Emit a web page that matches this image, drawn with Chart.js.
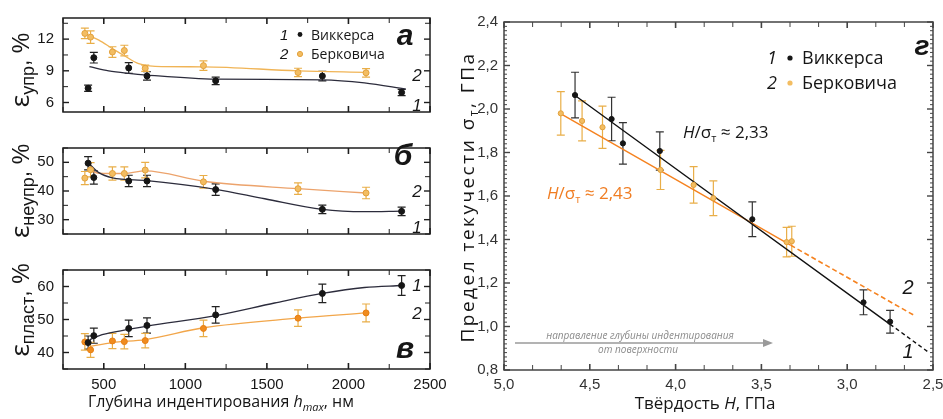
<!DOCTYPE html>
<html>
<head>
<meta charset="utf-8">
<script src="https://cdn.jsdelivr.net/npm/chart.js@4.4.1/dist/chart.umd.min.js"></script>
<style>
  body { margin: 0; background: #fff; }
  #wrap { position: relative; width: 943px; height: 419px; overflow: hidden; background: #fff; }
  canvas { position: absolute; }
</style>
</head>
<body>
<div id="wrap">
  <canvas id="chartA" width="460" height="130" style="left:0;top:0"></canvas>
  <canvas id="chartB" width="460" height="122" style="left:0;top:130px"></canvas>
  <canvas id="chartC" width="460" height="167" style="left:0;top:252px"></canvas>
  <canvas id="chartD" width="503" height="419" style="left:440px;top:0"></canvas>
</div>
<script>
// глубина индентирования, нм
var depthVickers = [404, 439, 653, 765, 1186, 1840, 2326];
var depthBerkovich = [384, 419, 553, 626, 754, 1111, 1691, 2108];
var depthTicks = [500, 1000, 1500, 2000, 2500];

// а — упругая деформация
var elasticVickers = [7.35, 10.24, 9.27, 8.51, 8.05, 8.5, 6.95];
var elasticVickersErr = [0.3, 0.5, 0.5, 0.4, 0.35, 0.45, 0.3];
var elasticBerkovich = [12.54, 12.19, 10.78, 10.92, 9.24, 9.49, 8.84, 8.81];
var elasticBerkovichErr = [0.5, 0.6, 0.5, 0.5, 0.3, 0.45, 0.4, 0.4];
var elasticFitVX = [412, 530, 653, 765, 1186, 1840, 2098, 2352];
var elasticFitVY = [9.4, 9.0, 8.76, 8.6, 8.21, 8.15, 7.86, 7.27];
var elasticFitBX = [384, 470, 553, 626, 714, 815, 1111, 1691, 2108];
var elasticFitBY = [12.5, 11.9, 11.1, 10.43, 9.68, 9.42, 9.38, 9.0, 8.86];
var elasticTicks = [6, 9, 12];

// б — неупругая деформация
var inelasticVickers = [49.7, 44.7, 43.5, 43.5, 40.5, 33.6, 32.9];
var inelasticVickersErr = [2.3, 2.3, 2, 2, 2, 1.5, 1.5];
var inelasticBerkovich = [44.5, 47.4, 46.1, 46.1, 47.3, 43.2, 40.8, 39.3];
var inelasticBerkovichErr = [2.3, 2.5, 2.3, 2.3, 2.7, 2.2, 2, 2];
var inelasticFitVX = [404, 470, 553, 765, 1186, 1487, 1840, 2098, 2326];
var inelasticFitVY = [49.9, 46.4, 44.6, 43.6, 40.6, 37.3, 33.6, 32.8, 33.0];
var inelasticFitBX = [398, 470, 626, 754, 1111, 1691, 2108];
var inelasticFitBY = [47.7, 46.2, 46.1, 47.0, 43.4, 40.8, 39.3];
var inelasticTicks = [30, 40, 50];

// в — пластическая деформация
var plasticVickers = [43.0, 45.1, 47.3, 48.2, 51.4, 57.9, 60.3];
var plasticVickersErr = [2, 2.3, 2.5, 2.3, 2.5, 2.8, 3];
var plasticBerkovich = [43.2, 40.8, 43.5, 43.3, 43.6, 47.3, 50.4, 52.0];
var plasticBerkovichErr = [2.5, 2.3, 2.3, 2.2, 2.2, 2.5, 2.5, 2.7];
var plasticFitVX = [415, 490, 653, 765, 1186, 1547, 1840, 2098, 2326];
var plasticFitVY = [43.9, 45.4, 47.0, 48.0, 51.2, 55.0, 57.9, 59.7, 60.3];
var plasticFitBX = [414, 551, 754, 1111, 1691, 2108];
var plasticFitBY = [41.8, 43.0, 43.9, 47.5, 50.4, 52.0];
var plasticTicks = [40, 50, 60];

// г — предел текучести от твёрдости
var hardVickers = [4.586, 4.373, 4.307, 4.092, 3.553, 2.905, 2.75];
var yieldVickers = [2.064, 1.954, 1.842, 1.807, 1.493, 1.111, 1.022];
var yieldVickersErr = [0.105, 0.1, 0.095, 0.088, 0.08, 0.057, 0.052];
var hardBerkovich = [4.669, 4.545, 4.426, 4.088, 3.895, 3.78, 3.353, 3.323];
var yieldBerkovich = [1.98, 1.945, 1.916, 1.72, 1.651, 1.59, 1.388, 1.392];
var yieldBerkovichErr = [0.1, 0.092, 0.097, 0.09, 0.084, 0.08, 0.068, 0.069];
var lineVickersX = [4.6, 2.75], lineVickersY = [2.07, 1.01];
var lineVickersDashX = [2.75, 2.53], lineVickersDashY = [1.01, 0.884];
var lineBerkovichX = [4.673, 3.33], lineBerkovichY = [1.98, 1.374];
var lineBerkovichDashX = [3.33, 2.614], lineBerkovichDashY = [1.374, 1.053];
var hardTicks = [2.5, 3.0, 3.5, 4.0, 4.5, 5.0];
var yieldTicks = [0.8, 1.0, 1.2, 1.4, 1.6, 1.8, 2.0, 2.2, 2.4];

var INK = '#161616';
var TICKFONT = 'Liberation Sans';
var TEXTFONT = 'Open Sans';

function pts(xs, ys) {
    return xs.map(function(x, i) { return {x: x, y: ys[i]}; });
}

function pointSet(xs, ys, err, fill, edge, barColor, r) {
    return {
        type: 'scatter', data: pts(xs, ys), err: err, errColor: barColor,
        backgroundColor: fill, borderColor: edge, borderWidth: 1,
        pointRadius: r || 3, pointHoverRadius: r || 3, order: 1
    };
}

function fitSet(xs, ys, color, dash, width) {
    return {
        type: 'line', data: pts(xs, ys), borderColor: color, borderWidth: width || 1.3,
        pointRadius: 0, cubicInterpolationMode: 'monotone', borderDash: dash || [],
        fill: false, order: 2
    };
}

// error bars through the chart's own y scale
var errorBars = {
    id: 'errorBars',
    beforeDatasetsDraw: function(chart) {
        var ctx = chart.ctx;
        chart.data.datasets.forEach(function(ds, i) {
            if (!ds.err) return;
            var meta = chart.getDatasetMeta(i);
            var sy = chart.scales.y;
            ctx.save();
            ctx.strokeStyle = ds.errColor;
            ctx.lineWidth = 1.2;
            meta.data.forEach(function(pt, j) {
                var v = ds.data[j].y, e = ds.err[j];
                var t = sy.getPixelForValue(v + e), b = sy.getPixelForValue(v - e);
                ctx.beginPath();
                ctx.moveTo(pt.x, t); ctx.lineTo(pt.x, b);
                ctx.moveTo(pt.x - 4, t); ctx.lineTo(pt.x + 4, t);
                ctx.moveTo(pt.x - 4, b); ctx.lineTo(pt.x + 4, b);
                ctx.stroke();
            });
            ctx.restore();
        });
    }
};

function line(ctx, x1, y1, x2, y2) {
    ctx.beginPath(); ctx.moveTo(x1, y1); ctx.lineTo(x2, y2); ctx.stroke();
}

// frame + inward ticks on all four sides
function frameTicks(chart, xStep, xMajor, yStep, yMajor, color, minorLen) {
    var ctx = chart.ctx, a = chart.chartArea, sx = chart.scales.x, sy = chart.scales.y;
    ctx.save();
    ctx.strokeStyle = color;
    var i, v, p, major;
    for (i = Math.ceil(sx.min / xStep - 1e-6); i <= Math.floor(sx.max / xStep + 1e-6); i++) {
        v = i * xStep; p = sx.getPixelForValue(v);
        major = Math.abs(v / xMajor - Math.round(v / xMajor)) < 1e-6;
        ctx.lineWidth = major ? 1.6 : 1;
        var l = major ? 6 : 5;
        line(ctx, p, a.top, p, a.top + l);
        line(ctx, p, a.bottom, p, a.bottom - l);
    }
    for (i = Math.ceil(sy.min / yStep - 1e-6); i <= Math.floor(sy.max / yStep + 1e-6); i++) {
        v = i * yStep; p = sy.getPixelForValue(v);
        major = Math.abs(v / yMajor - Math.round(v / yMajor)) < 1e-6;
        ctx.lineWidth = major ? 1.4 : 1;
        var l2 = major ? 6 : minorLen;
        line(ctx, a.left, p, a.left + l2, p);
        line(ctx, a.right, p, a.right - l2, p);
    }
    ctx.lineWidth = 1.5;
    ctx.strokeRect(a.left, a.top, a.right - a.left, a.bottom - a.top);
    ctx.restore();
}

function richText(ctx, x, y, parts, rot, align, spacing) {
    ctx.save();
    ctx.translate(x, y);
    if (rot) ctx.rotate(rot);
    if (spacing) ctx.letterSpacing = spacing;
    var w = 0;
    parts.forEach(function(p) { ctx.font = p.font; w += ctx.measureText(p.t).width; });
    var cx = align === 'center' ? -w / 2 : 0;
    ctx.textAlign = 'left';
    ctx.textBaseline = 'alphabetic';
    parts.forEach(function(p) {
        ctx.font = p.font;
        ctx.fillStyle = p.color || INK;
        ctx.fillText(p.t, cx, p.dy || 0);
        cx += ctx.measureText(p.t).width;
    });
    ctx.restore();
}

function label(ctx, t, x, y, font, color) {
    ctx.save();
    ctx.font = font; ctx.fillStyle = color || INK;
    ctx.textAlign = 'center'; ctx.textBaseline = 'middle';
    ctx.fillText(t, x, y);
    ctx.restore();
}

function yTitle(ctx, x, y, sub) {
    richText(ctx, x, y, [
        {t: 'ε', font: '26px "' + TEXTFONT + '"'},
        {t: sub, font: '18px "Liberation Sans"', dy: 5},
        {t: ', %', font: '23px "Liberation Sans"'}
    ], -Math.PI / 2, 'center');
}

function plainNum(v) { return String(v); }
function commaNum(v) { return v.toFixed(1).replace('.', ','); }

function leftChart(id, padTop, xHeight, yMin, yMax, yTicks, yStep, datasets, showX, extra) {
    var ctx = document.getElementById(id).getContext('2d');
    return new Chart(ctx, {
        type: 'scatter',
        data: {datasets: datasets},
        options: {
            responsive: false,
            animation: false,
            layout: {padding: {top: padTop, right: 30, left: 0, bottom: 0}},
            plugins: {legend: {display: false}, tooltip: {enabled: false}},
            scales: {
                x: {
                    type: 'linear', min: 250, max: 2500,
                    grid: {display: false, drawTicks: false}, border: {display: false},
                    ticks: {display: showX, color: INK, padding: 7, font: {family: TICKFONT, size: 15}, callback: plainNum},
                    afterBuildTicks: function(s) { s.ticks = depthTicks.map(function(v) { return {value: v}; }); },
                    afterFit: function(s) { s.height = xHeight; }
                },
                y: {
                    type: 'linear', min: yMin, max: yMax,
                    grid: {display: false, drawTicks: false}, border: {display: false},
                    ticks: {color: INK, padding: 9, font: {family: TICKFONT, size: 15}, callback: plainNum},
                    afterBuildTicks: function(s) { s.ticks = yTicks.map(function(v) { return {value: v}; }); },
                    afterFit: function(s) { s.width = 63; }
                }
            }
        },
        plugins: [errorBars, {
            id: 'deco',
            afterDraw: function(chart) {
                frameTicks(chart, 250, 500, yStep, yStep * 2, '#1e1e1e', 5);
                extra(chart.ctx);
            }
        }]
    });
}

var numFont = 'italic 17px "Liberation Sans"';
var panelFont = 'bold italic 30px "Liberation Sans"';
var lightOrange = '#f3bd62', orangeEdge = '#e2a13c', orangeBar = '#e9ae48';

leftChart('chartA', 14, 6, 5.1, 14, elasticTicks, 1.5, [
    fitSet(elasticFitVX, elasticFitVY, '#2c2c3c'),
    fitSet(elasticFitBX, elasticFitBY, '#f0b456'),
    pointSet(depthVickers, elasticVickers, elasticVickersErr, INK, INK, '#222'),
    pointSet(depthBerkovich, elasticBerkovich, elasticBerkovichErr, lightOrange, orangeEdge, orangeBar)
], false, function(ctx) {
    yTitle(ctx, 29, 70, 'упр');
    label(ctx, 'а', 405, 37, panelFont);
    label(ctx, '2', 417, 76, numFont);
    label(ctx, '1', 417, 106, numFont);
    // legend
    richText(ctx, 280, 40, [{t: '1', font: 'italic 15px "Liberation Sans"'}]);
    richText(ctx, 280, 59, [{t: '2', font: 'italic 15px "Liberation Sans"'}]);
    ctx.save();
    ctx.fillStyle = INK; ctx.beginPath(); ctx.arc(300, 34.5, 2.4, 0, 7); ctx.fill();
    ctx.fillStyle = lightOrange; ctx.strokeStyle = orangeEdge; ctx.beginPath(); ctx.arc(300, 54, 2.6, 0, 7); ctx.fill(); ctx.stroke();
    ctx.restore();
    richText(ctx, 311, 40, [{t: 'Виккерса', font: '14px "' + TEXTFONT + '"'}]);
    richText(ctx, 311, 59, [{t: 'Берковича', font: '14px "' + TEXTFONT + '"'}]);
});

leftChart('chartB', 7, 6, 25, 55, inelasticTicks, 5, [
    fitSet(inelasticFitVX, inelasticFitVY, '#2c2c3c'),
    fitSet(inelasticFitBX, inelasticFitBY, '#eca36c'),
    pointSet(depthVickers, inelasticVickers, inelasticVickersErr, INK, INK, '#222'),
    pointSet(depthBerkovich, inelasticBerkovich, inelasticBerkovichErr, lightOrange, orangeEdge, orangeBar)
], false, function(ctx) {
    yTitle(ctx, 29, 61, 'неупр');
    label(ctx, 'б', 403, 27, panelFont);
    label(ctx, '2', 417, 62, numFont);
    label(ctx, '1', 417, 98, numFont);
});

leftChart('chartC', 8, 50, 35, 65, plasticTicks, 5, [
    fitSet(plasticFitVX, plasticFitVY, '#2c2c3c'),
    fitSet(plasticFitBX, plasticFitBY, '#f2a64a'),
    pointSet(depthVickers, plasticVickers, plasticVickersErr, INK, INK, '#222'),
    pointSet(depthBerkovich, plasticBerkovich, plasticBerkovichErr, '#f08c1e', '#e67e12', orangeBar)
], true, function(ctx) {
    yTitle(ctx, 29, 58, 'пласт');
    label(ctx, 'в', 405, 98, panelFont);
    label(ctx, '1', 417, 34, numFont);
    label(ctx, '2', 417, 62, numFont);
    richText(ctx, 88, 155, [
        {t: 'Глубина индентирования ', font: '16px "' + TEXTFONT + '"'},
        {t: 'h', font: 'italic 16px "' + TEXTFONT + '"'},
        {t: 'max', font: 'italic 11px "' + TEXTFONT + '"', dy: 4},
        {t: ', нм', font: '16px "' + TEXTFONT + '"'}
    ]);
});

// г
var ctxD = document.getElementById('chartD').getContext('2d');
new Chart(ctxD, {
    type: 'scatter',
    data: {
        datasets: [
            fitSet(lineVickersX, lineVickersY, '#111', [], 1.4),
            fitSet(lineVickersDashX, lineVickersDashY, '#111', [4, 3], 1.4),
            fitSet(lineBerkovichX, lineBerkovichY, '#f5821f', [], 1.4),
            fitSet(lineBerkovichDashX, lineBerkovichDashY, '#f5821f', [5, 3], 1.6),
            pointSet(hardVickers, yieldVickers, yieldVickersErr, INK, INK, '#333', 2.6),
            pointSet(hardBerkovich, yieldBerkovich, yieldBerkovichErr, lightOrange, orangeEdge, orangeBar, 2.6)
        ]
    },
    options: {
        responsive: false,
        animation: false,
        layout: {padding: {top: 22, right: 10, left: 0, bottom: 0}},
        plugins: {legend: {display: false}, tooltip: {enabled: false}},
        scales: {
            x: {
                type: 'linear', min: 2.5, max: 5.0, reverse: true,
                grid: {display: false, drawTicks: false}, border: {display: false},
                ticks: {color: '#333', padding: 6, font: {family: TICKFONT, size: 15}, callback: commaNum},
                afterBuildTicks: function(s) { s.ticks = hardTicks.map(function(v) { return {value: v}; }); },
                afterFit: function(s) { s.height = 49; }
            },
            y: {
                type: 'linear', min: 0.8, max: 2.4,
                grid: {display: false, drawTicks: false}, border: {display: false},
                ticks: {color: '#333', padding: 6, font: {family: TICKFONT, size: 15}, callback: commaNum},
                afterBuildTicks: function(s) { s.ticks = yieldTicks.map(function(v) { return {value: v}; }); },
                afterFit: function(s) { s.width = 64; }
            }
        }
    },
    plugins: [errorBars, {
        id: 'decoD',
        afterDraw: function(chart) {
            var ctx = chart.ctx;
            frameTicks(chart, 0.5 / 3, 0.5, 0.02, 0.2, '#444', 3);
            label(ctx, 'г', 482, 47, 'bold italic 28px "Liberation Sans"');
            label(ctx, '2', 468, 288, 'italic 20px "Liberation Sans"');
            label(ctx, '1', 468, 352, 'italic 20px "Liberation Sans"');
            // legend
            var f = '18px "' + TEXTFONT + '"';
            richText(ctx, 327, 64, [{t: '1', font: 'italic 18px "' + TEXTFONT + '"'}]);
            richText(ctx, 327, 89, [{t: '2', font: 'italic 18px "' + TEXTFONT + '"'}]);
            ctx.save();
            ctx.fillStyle = INK; ctx.beginPath(); ctx.arc(350, 58, 2.6, 0, 7); ctx.fill();
            ctx.fillStyle = lightOrange; ctx.beginPath(); ctx.arc(350, 83, 2.6, 0, 7); ctx.fill();
            ctx.restore();
            richText(ctx, 362, 64, [{t: 'Виккерса', font: f}]);
            richText(ctx, 362, 89, [{t: 'Берковича', font: f}]);
            // ratios
            richText(ctx, 243, 138, [
                {t: 'H', font: 'italic 17px "' + TEXTFONT + '"'},
                {t: '/σ', font: '17px "' + TEXTFONT + '"'},
                {t: 'т', font: '11px "' + TEXTFONT + '"', dy: 4},
                {t: ' ≈ 2,33', font: '17px "' + TEXTFONT + '"'}
            ]);
            var oc = '#f07d22';
            richText(ctx, 107, 199, [
                {t: 'H', font: 'italic 17px "' + TEXTFONT + '"', color: oc},
                {t: '/σ', font: '17px "' + TEXTFONT + '"', color: oc},
                {t: 'т', font: '11px "' + TEXTFONT + '"', dy: 4, color: oc},
                {t: ' ≈ 2,43', font: '17px "' + TEXTFONT + '"', color: oc}
            ]);
            // direction arrow
            ctx.save();
            ctx.strokeStyle = '#9a9a9a'; ctx.fillStyle = '#9a9a9a'; ctx.lineWidth = 1.6;
            line(ctx, 75, 343, 326, 343);
            ctx.beginPath(); ctx.moveTo(333, 343); ctx.lineTo(323, 339); ctx.lineTo(323, 347); ctx.closePath(); ctx.fill();
            ctx.restore();
            label(ctx, 'направление глубины индентирования', 200, 336, 'italic 10px "' + TEXTFONT + '"', '#8a8a8a');
            label(ctx, 'от поверхности', 198, 350, 'italic 10px "' + TEXTFONT + '"', '#8a8a8a');
            // axis titles
            richText(ctx, 265, 409, [
                {t: 'Твёрдость ', font: '17px "' + TEXTFONT + '"'},
                {t: 'H', font: 'italic 17px "' + TEXTFONT + '"'},
                {t: ', ГПа', font: '17px "' + TEXTFONT + '"'}
            ], 0, 'center');
            richText(ctx, 34, 197, [
                {t: 'Предел текучести σ', font: '19px "' + TEXTFONT + '"'},
                {t: 'т', font: '12px "' + TEXTFONT + '"', dy: 4},
                {t: ', ГПа', font: '19px "' + TEXTFONT + '"'}
            ], -Math.PI / 2, 'center', '2.5px');
        }
    }]
});
</script>
</body>
</html>
